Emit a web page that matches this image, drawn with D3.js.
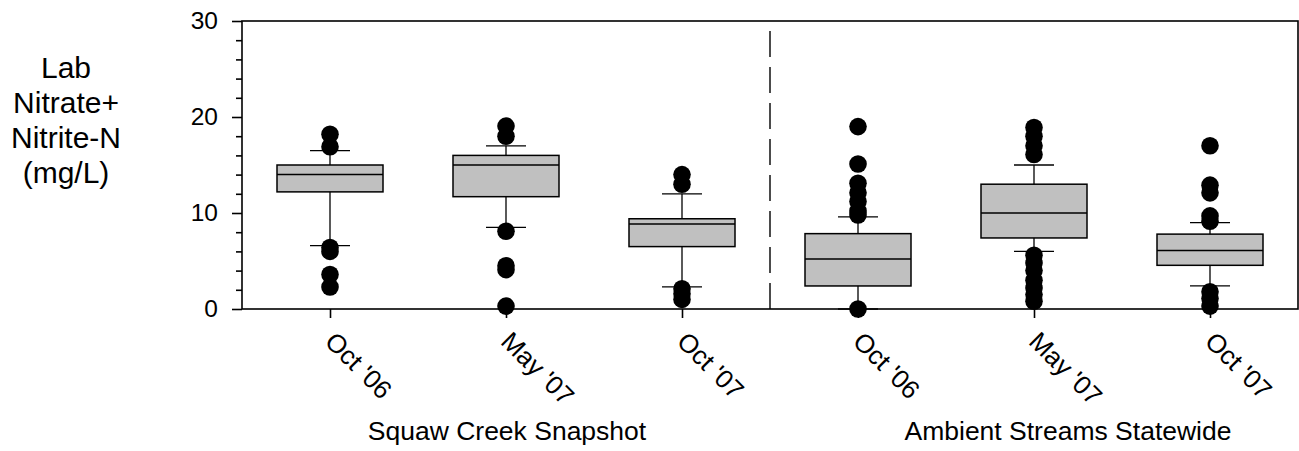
<html>
<script src="https://d3js.org/d3.v7.min.js"></script>
<style>
  body { margin: 0; background: #fff; }
  svg text { font-family: "Liberation Sans", Arial, sans-serif; fill: #000; }
</style>
<body>
<svg id="chart" width="1299" height="451"></svg>
<script>
// categories (two groups of three sampling events)
var keys = ["sq1", "sq2", "sq3", "am1", "am2", "am3"];
var tickLabels = ["Oct '06", "May '07", "Oct '07", "Oct '06", "May '07", "Oct '07"];
var groupLabels = ["Squaw Creek Snapshot", "Ambient Streams Statewide"];

// box statistics, mg/L
var lowWhisker = [6.6, 8.5, 2.3, 0.0, 6.0, 2.4];
var q1 = [12.2, 11.7, 6.5, 2.4, 7.4, 4.55];
var median = [14.0, 15.0, 8.85, 5.2, 10.0, 6.1];
var q3 = [15.0, 16.0, 9.4, 7.85, 13.0, 7.8];
var highWhisker = [16.5, 17.0, 12.0, 9.6, 15.0, 9.0];
var outliers = [
  [18.2, 16.9, 6.4, 6.0, 3.6, 2.3],
  [19.05, 18.0, 8.1, 4.5, 4.1, 0.3],
  [14.0, 13.0, 2.1, 1.6, 1.0],
  [19.0, 15.1, 13.1, 12.1, 11.2, 10.2, 9.8, 0.0],
  [18.9, 18.0, 17.0, 16.1, 5.6, 4.8, 4.0, 3.0, 2.2, 1.5, 0.8],
  [17.0, 12.9, 12.1, 9.7, 9.15, 1.8, 1.1, 0.3]
];
var yMajorTicks = [0, 10, 20, 30];
var yMinorTicks = [2, 4, 6, 8, 12, 14, 16, 18, 22, 24, 26, 28];

var plotL = 242, plotR = 1298, plotT = 21, plotB = 309;
var boxW = 106, capW = 40, dotR = 8.8;

var svg = d3.select("#chart");

var x = d3.scalePoint().domain(keys).range([plotL, plotR]).padding(0.5);
var y = d3.scaleLinear().domain([0, 30]).range([plotB, plotT]);

// y axis: major + minor ticks
var yAxis = svg.append("g")
  .attr("transform", "translate(" + plotL + ",0)")
  .call(d3.axisLeft(y).tickValues(yMajorTicks).tickSize(10).tickPadding(14).tickFormat(d3.format("d")));
yAxis.select(".domain").remove();
yAxis.selectAll("line").attr("stroke", "#000").attr("stroke-width", 1.6);
yAxis.selectAll("text").style("font-size", "24.5px");

var yMinor = svg.append("g")
  .attr("transform", "translate(" + plotL + ",0)")
  .call(d3.axisLeft(y).tickValues(yMinorTicks).tickSize(6).tickFormat(""));
yMinor.select(".domain").remove();
yMinor.selectAll("line").attr("stroke", "#000").attr("stroke-width", 1.6);

// x axis with rotated labels
var xAxis = svg.append("g")
  .attr("transform", "translate(0," + plotB + ")")
  .call(d3.axisBottom(x).tickSize(9).tickFormat(function(d, i) { return tickLabels[i]; }));
xAxis.select(".domain").remove();
xAxis.selectAll("line").attr("stroke", "#000").attr("stroke-width", 1.6);
xAxis.selectAll("text")
  .style("font-size", "26px")
  .attr("text-anchor", "start")
  .attr("dy", 0)
  .attr("x", 19)
  .attr("y", 29)
  .attr("transform", "rotate(45)");

// group separator
var sepX = (x(keys[2]) + x(keys[3])) / 2;
svg.append("line")
  .attr("x1", sepX).attr("x2", sepX)
  .attr("y1", plotB).attr("y2", plotT)
  .attr("stroke", "#000").attr("stroke-width", 1.4)
  .attr("stroke-dasharray", "26,10");

// boxes
var data = keys.map(function(k, i) {
  return { key: k, lo: lowWhisker[i], q1: q1[i], med: median[i], q3: q3[i], hi: highWhisker[i], out: outliers[i] };
});

var g = svg.append("g").selectAll("g").data(data).enter().append("g");

g.append("line")
  .attr("x1", function(d) { return x(d.key); }).attr("x2", function(d) { return x(d.key); })
  .attr("y1", function(d) { return y(d.lo); }).attr("y2", function(d) { return y(d.hi); })
  .attr("stroke", "#000").attr("stroke-width", 1.3);

g.selectAll(".cap").data(function(d) { return [{ key: d.key, v: d.lo }, { key: d.key, v: d.hi }]; })
  .enter().append("line")
  .attr("class", "cap")
  .attr("x1", function(d) { return x(d.key) - capW / 2; }).attr("x2", function(d) { return x(d.key) + capW / 2; })
  .attr("y1", function(d) { return y(d.v); }).attr("y2", function(d) { return y(d.v); })
  .attr("stroke", "#000").attr("stroke-width", 1.3);

g.append("rect")
  .attr("x", function(d) { return x(d.key) - boxW / 2; })
  .attr("width", boxW)
  .attr("y", function(d) { return y(d.q3); })
  .attr("height", function(d) { return y(d.q1) - y(d.q3); })
  .attr("fill", "#c0c0c0").attr("stroke", "#000").attr("stroke-width", 1.5);

g.append("line")
  .attr("x1", function(d) { return x(d.key) - boxW / 2; }).attr("x2", function(d) { return x(d.key) + boxW / 2; })
  .attr("y1", function(d) { return y(d.med); }).attr("y2", function(d) { return y(d.med); })
  .attr("stroke", "#000").attr("stroke-width", 1.5);

// frame
svg.append("rect")
  .attr("x", plotL).attr("y", plotT)
  .attr("width", plotR - plotL).attr("height", plotB - plotT)
  .attr("fill", "none").attr("stroke", "#000").attr("stroke-width", 1.6);

// outlier dots on top
g.selectAll("circle").data(function(d) { return d.out.map(function(v) { return { key: d.key, v: v }; }); })
  .enter().append("circle")
  .attr("cx", function(d) { return x(d.key); })
  .attr("cy", function(d) { return y(d.v); })
  .attr("r", dotR)
  .attr("fill", "#000");

// group titles
svg.append("text").attr("x", 507).attr("y", 440).attr("text-anchor", "middle")
  .style("font-size", "26.5px").text(groupLabels[0]);
svg.append("text").attr("x", 1068).attr("y", 440).attr("text-anchor", "middle")
  .style("font-size", "26.5px").text(groupLabels[1]);

// y title
var yTitle = ["Lab", "Nitrate+", "Nitrite-N", "(mg/L)"];
svg.append("text")
  .attr("text-anchor", "middle")
  .style("font-size", "30px")
  .selectAll("tspan").data(yTitle).enter().append("tspan")
  .attr("x", 66)
  .attr("y", function(d, i) { return 78 + i * 35; })
  .text(function(d) { return d; });
</script>
</body>
</html>
